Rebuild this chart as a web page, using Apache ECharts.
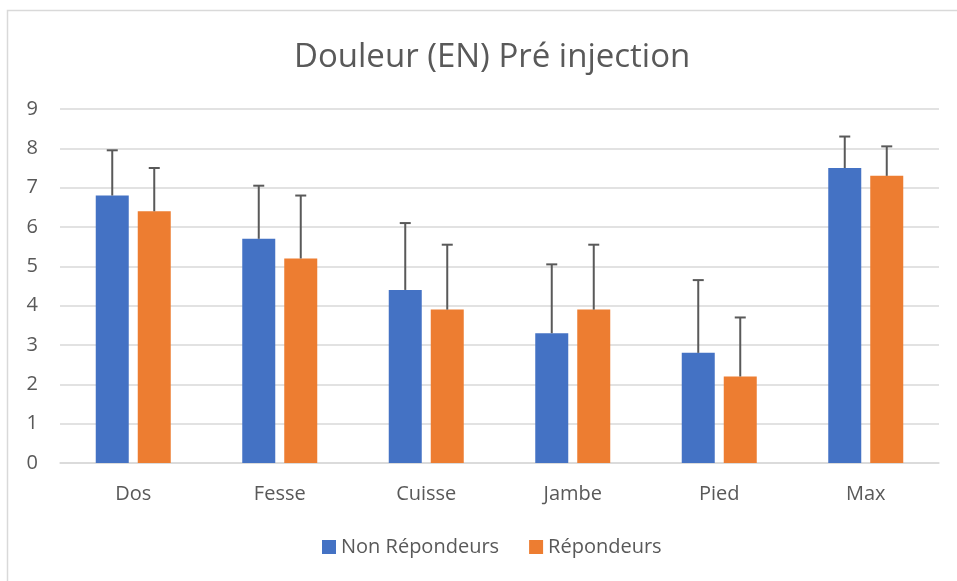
<!DOCTYPE html>
<html><head><meta charset="utf-8">
<script src="https://cdn.jsdelivr.net/npm/echarts@6/dist/echarts.min.js"></script>
<style>html,body{margin:0;padding:0;background:#fff}#c{width:957px;height:581px}</style>
</head><body><div id="c"></div>
<script>
const categories = ['Dos', 'Fesse', 'Cuisse', 'Jambe', 'Pied', 'Max'];
const nonRepondeurs = [6.8, 5.7, 4.4, 3.3, 2.8, 7.5];
const nonRepondeursErrTop = [7.95, 7.05, 6.1, 5.05, 4.65, 8.3];
const repondeurs = [6.4, 5.2, 3.9, 3.9, 2.2, 7.3];
const repondeursErrTop = [7.5, 6.8, 5.55, 5.55, 3.7, 8.05];
const yTicks = [0, 1, 2, 3, 4, 5, 6, 7, 8, 9];

const FONT = '"Open Sans", "Liberation Sans", sans-serif';
const TXT = '#595959';
const BAR_W = 33, GAP = 9;

function errRender(offsetSign, base, tops) {
  return function (params, api) {
    const i = api.value(0);
    const p0 = api.coord([i, base[i]]);
    const p1 = api.coord([i, tops[i]]);
    const x = p0[0] + offsetSign * (BAR_W + GAP) / 2;
    const style = { stroke: '#595959', lineWidth: 2 };
    return {
      type: 'group',
      children: [
        { type: 'line', shape: { x1: x, y1: p0[1], x2: x, y2: p1[1] }, style },
        { type: 'line', shape: { x1: x - 5.5, y1: p1[1], x2: x + 5.5, y2: p1[1] }, style }
      ]
    };
  };
}

const chart = echarts.init(document.getElementById('c'));
chart.setOption({
  animation: false,
  backgroundColor: '#fff',
  graphic: [{ type: 'rect', shape: { x: 7.5, y: 10.5, width: 1000, height: 1000 }, style: { fill: 'none', stroke: '#d9d9d9', lineWidth: 1.5 }, z: -1 }],
  title: { text: 'Douleur (EN) Pré injection', left: 289, top: 36,
    textStyle: { fontFamily: FONT, fontSize: 33, fontWeight: 'normal', color: TXT } },
  legend: { bottom: 19, left: 317, itemWidth: 14, itemHeight: 14, itemGap: 30,
    icon: 'rect', textStyle: { fontFamily: FONT, fontSize: 20, color: TXT },
    data: ['Non Répondeurs', 'Répondeurs'] },
  grid: { left: 60, right: 18, top: 109, bottom: 118 },
  xAxis: { type: 'category', data: categories,
    axisLine: { lineStyle: { color: '#d9d9d9', width: 1.5 } }, axisTick: { show: false },
    axisLabel: { fontFamily: FONT, fontSize: 20, color: TXT, margin: 21 } },
  yAxis: { type: 'value', min: yTicks[0], max: yTicks[yTicks.length - 1], interval: 1,
    axisLine: { show: false }, axisTick: { show: false },
    splitLine: { lineStyle: { color: '#d9d9d9', width: 1.5 } },
    axisLabel: { fontFamily: FONT, fontSize: 20, color: TXT, margin: 22 } },
  series: [
    { name: 'Non Répondeurs', type: 'bar', data: nonRepondeurs, barWidth: BAR_W, barGap: (GAP / BAR_W * 100) + '%',
      itemStyle: { color: '#4472c4' } },
    { name: 'Répondeurs', type: 'bar', data: repondeurs, barWidth: BAR_W,
      itemStyle: { color: '#ed7d31' } },
    { type: 'custom', name: 'errNon', data: categories.map((c, i) => [i]), encode: { x: 0 },
      renderItem: errRender(-1, nonRepondeurs, nonRepondeursErrTop), z: 3, silent: true },
    { type: 'custom', name: 'errRep', data: categories.map((c, i) => [i]), encode: { x: 0 },
      renderItem: errRender(1, repondeurs, repondeursErrTop), z: 3, silent: true }
  ]
});
</script></body></html>
